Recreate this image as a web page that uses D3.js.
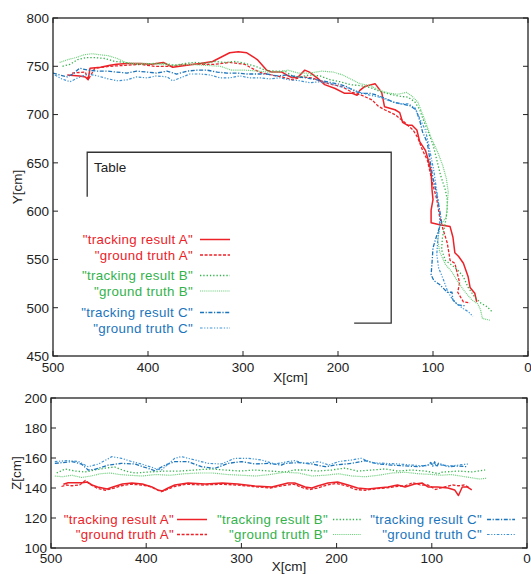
<!DOCTYPE html>
<html><head><meta charset="utf-8">
<script src="https://cdn.jsdelivr.net/npm/d3@7"></script>
<style>
body{margin:0;background:#fff;}
svg text{font-family:"Liberation Sans",Arial,sans-serif;}
</style></head>
<body><svg id="c" width="531" height="574"></svg>
<script>
// ---------- data: top plot (X[cm], Y[cm]) ----------
const trackA_XY=[[485,741],[472,740],[466,739],[463,736],[461,748],[450,749],[440,751],[433,752],[422,753],[408,753],[396,752],[384,754],[374,749],[359,751],[345,753],[332,755],[314,764],[305,765],[296,764],[285,757],[275,746],[270,744],[259,744],[254,741],[248,738],[242,739],[235,746],[230,744],[222,738],[214,731],[203,727],[193,722],[185,722],[180,720],[177,725],[172,729],[161,732],[154,723],[151,708],[140,705],[135,702],[132,692],[127,689],[122,689],[117,684],[114,672],[108,663],[105,653],[102,641],[101,622],[100,612],[102,601],[102,588],[93,586],[82,584],[79,573],[77,557],[73,553],[68,546],[63,532],[61,521],[56,515],[54,506]];
const truthA_XY=[[480,743],[466,744],[463,736],[456,748],[440,750],[424,751],[408,752],[393,750],[377,750],[361,752],[345,752],[330,752],[314,754],[298,752],[287,746],[280,743],[270,741],[259,739],[248,736],[238,739],[227,738],[217,734],[206,731],[196,729],[185,723],[175,720],[164,715],[158,709],[151,705],[140,700],[130,692],[121,684],[116,676],[111,663],[106,653],[103,640],[100,627],[96,612],[93,594],[90,583],[85,567],[82,549],[77,546],[74,534],[72,526],[74,516],[68,506],[61,505]];
const trackB_XY=[[490,750],[482,752],[474,757],[465,759],[456,759],[445,758],[435,755],[424,754],[414,752],[403,752],[393,753],[382,753],[372,751],[361,753],[351,754],[340,753],[330,755],[319,754],[308,755],[298,753],[287,750],[277,746],[266,745],[256,745],[248,740],[240,739],[230,741],[219,740],[208,736],[198,734],[187,731],[177,730],[166,728],[156,724],[145,721],[135,719],[126,718],[119,713],[114,705],[110,694],[105,682],[100,669],[96,653],[92,637],[87,622],[85,612],[85,601],[87,588],[90,573],[91,560],[87,549],[80,544],[74,539],[68,532],[63,521],[56,511],[50,505],[43,501],[37,495]];
const truthB_XY=[[493,754],[484,757],[476,759],[467,762],[459,763],[451,762],[442,761],[432,758],[424,754],[414,753],[403,753],[387,752],[372,751],[356,752],[340,751],[324,750],[312,746],[298,746],[284,745],[274,744],[263,744],[253,746],[242,743],[230,743],[217,745],[205,744],[195,741],[185,736],[177,732],[166,730],[156,725],[145,722],[137,721],[128,723],[122,719],[116,713],[112,703],[107,690],[102,676],[95,661],[90,648],[86,634],[84,620],[85,606],[86,594],[93,584],[95,570],[93,558],[87,545],[80,537],[74,527],[66,516],[59,508],[53,504],[50,498],[48,489],[40,487]];
const trackC_XY=[[500,743],[493,741],[485,739],[479,742],[472,748],[463,746],[454,745],[443,745],[433,744],[422,743],[412,745],[401,744],[391,743],[380,745],[370,742],[359,745],[348,746],[338,746],[327,744],[317,743],[306,743],[296,742],[285,742],[275,742],[264,740],[254,741],[243,739],[233,738],[222,736],[212,734],[201,732],[191,729],[182,724],[175,722],[166,722],[159,720],[151,717],[142,713],[133,711],[124,709],[118,705],[114,694],[111,682],[106,671],[104,658],[102,646],[100,634],[97,622],[95,612],[93,601],[91,589],[96,575],[100,562],[101,547],[102,534],[99,528],[93,524],[85,516],[80,516],[79,508],[74,503],[66,502]];
const truthC_XY=[[498,741],[491,737],[482,734],[474,738],[463,742],[453,740],[442,737],[432,735],[422,736],[412,739],[401,738],[391,740],[380,739],[374,735],[366,738],[356,742],[345,742],[335,741],[324,738],[314,738],[303,740],[293,738],[282,738],[272,737],[261,738],[251,736],[240,735],[230,733],[219,734],[208,732],[198,729],[187,727],[177,723],[166,720],[156,718],[145,714],[135,711],[126,711],[119,707],[114,696],[108,684],[105,671],[102,656],[99,641],[97,627],[95,614],[93,599],[93,586],[95,570],[96,555],[94,541],[89,529],[85,518],[81,511],[75,504],[68,499],[63,496],[58,491]];
// table outline (X, Y)
const tableOutline=[[464,615],[464,661],[144,661],[144,484],[183,484]];

// ---------- data: bottom plot (X[cm], Z[cm]) ----------
const trackA_XZ=[[487,142.5],[482,143.5],[475,143.5],[467,143.5],[462,144],[457,142],[451,140.7],[441,139.3],[435,140.7],[425,142.7],[415,143.3],[404,142.7],[394,140.7],[388,138.7],[383,138],[377,140],[370,142],[356,143.3],[338,142.7],[320,143.3],[304,142.7],[286,141.3],[268,140.7],[251,143.3],[244,143.3],[233,140.7],[226,140],[220,141.3],[209,143.3],[199,144],[188,142],[178,140],[167,139.3],[157,140],[146,140.7],[136,142],[128,140.7],[118,142.7],[110,143.3],[104,140.7],[94,140.7],[83,140],[76,138.7],[72,135],[68,140.7],[63,140.7],[58,138.7]];
const truthA_XZ=[[489,141],[484,142],[478,141.5],[470,142],[464,145],[460,143],[452,140],[443,138.5],[436,139.5],[426,141.5],[416,142.5],[405,142],[396,141],[389,139],[384,137.5],[378,139],[370,141],[358,142.5],[340,142],[322,142.5],[305,142],[288,141],[270,140],[252,142],[245,142.5],[235,140],[228,139],[220,140],[210,142],[200,143],[190,141.5],[180,139],[170,138.5],[158,139.5],[148,140],[138,141],[128,141.5],[120,143.5],[112,142],[104,142],[96,139],[85,141],[78,142],[72,141.5],[66,142],[60,140]];
const trackB_XZ=[[494,150],[485,152.7],[475,151.3],[464,150.7],[454,152],[443,153.3],[433,154],[422,151.3],[412,150],[396,150.7],[380,151.3],[365,151.3],[349,152],[333,152.7],[317,152],[301,151.3],[286,152],[270,151.3],[254,150.7],[244,152],[233,152],[220,151.3],[205,152],[191,153.3],[178,151.3],[163,152],[149,152.7],[136,151.3],[121,152],[107,151.3],[96,150],[93,149.5],[90,150.5],[86,150.7],[72,151.3],[58,150.7],[44,152]];
const truthB_XZ=[[496,148],[488,147.5],[478,148.5],[468,147],[458,148],[448,149.5],[438,150],[428,149],[418,148.5],[404,148],[390,149],[375,148.5],[360,149.5],[345,150],[330,150],[315,149],[300,148.5],[285,148],[270,149],[255,150.5],[240,150],[226,148],[212,148.5],[198,149.5],[184,148],[170,147.5],[156,148.5],[142,150],[128,150.5],[114,149.5],[100,149],[90,148.5],[80,149],[70,148],[60,147],[50,146],[42,146.5]];
const trackC_XZ=[[496,156.4],[478,157.6],[468,156],[461,152],[454,152.4],[440,155.3],[426,156.4],[412,156],[398,153.1],[391,151.5],[380,155.3],[370,157.6],[356,157.6],[342,154.2],[328,153.1],[314,156.4],[300,157.6],[286,156],[272,156.4],[258,155.3],[254,156.4],[240,156.9],[226,156],[212,154.2],[202,155.3],[184,156.4],[170,158.2],[156,156],[142,155.3],[128,154.7],[114,154.2],[104,155.3],[101,157],[99,154.5],[97,157.5],[95,154],[93,156.5],[83,154.2],[72,154.7],[63,154.2]];
const truthC_XZ=[[496,157.6],[482,158.3],[471,157.6],[461,154.2],[450,156],[436,160.9],[426,159.8],[415,157.6],[405,156],[391,153.1],[384,152],[370,159.8],[363,160.9],[349,158.7],[335,156.4],[321,156],[307,159.8],[293,159.8],[279,158.7],[265,156],[251,157.6],[244,158.2],[233,156.4],[219,157.6],[208,155.3],[198,157.6],[184,158.7],[174,159.8],[163,156.9],[149,156.4],[135,156],[121,155.3],[107,154.7],[100,156],[90,155.3],[79,154.7],[72,155.3],[62,156]];

// ---------- ticks & labels ----------
const xTicks=[500,400,300,200,100,0];
const yTicksTop=[450,500,550,600,650,700,750,800];
const zTicks=[100,120,140,160,180,200];
const seriesNames=['"tracking result A"','"ground truth A"','"tracking result B"','"ground truth B"','"tracking result C"','"ground truth C"'];

// ---------- styles ----------
const RED="#ec2228", GREEN="#33b24b", GREEN_L="#6fcf7d", BLUE="#1b75bc", BLUE_L="#3d93d6";
const styles=[
 {c:RED,   w:1.5, d:null,            t:RED},
 {c:RED,   w:1.3, d:"3,1.6",         t:RED},
 {c:GREEN, w:1.3, d:"1.3,2",         t:GREEN},
 {c:GREEN_L,w:1.2,d:"1,0.9",         t:GREEN},
 {c:BLUE,  w:1.3, d:"4,1.6,1.2,1.6", t:BLUE},
 {c:BLUE_L,w:1.2, d:"2.6,1.6,1.2,1.6,1.2,1.6", t:BLUE}
];

const svg=d3.select("#c");
const FS=13.3, LS=0.33;

function panel(cfg){
  const {l,r,t,b,ydom,yticks,series,ylabel,ylabX,ytickEnd,xtickBase,xlabBase,id}=cfg;
  const x=d3.scaleLinear().domain([500,0]).range([l,r]);
  const y=d3.scaleLinear().domain(ydom).range([b,t]);
  const g=svg.append("g");
  g.append("clipPath").attr("id",id).append("rect").attr("x",l).attr("y",t).attr("width",r-l).attr("height",b-t);
  const line=d3.line().x(d=>x(d[0])).y(d=>y(d[1]));
  const dg=g.append("g").attr("clip-path",`url(#${id})`);
  series.forEach((s,i)=>{
    const st=styles[i];
    dg.append("path").attr("d",line(s)).attr("fill","none").attr("stroke",st.c)
      .attr("stroke-width",st.w).attr("stroke-dasharray",st.d).attr("stroke-linejoin","round");
  });
  const tl=5;
  const ax=g.append("g").attr("stroke","#222").attr("stroke-width",1);
  xTicks.forEach(v=>{
    ax.append("line").attr("x1",x(v)).attr("x2",x(v)).attr("y1",b).attr("y2",b-tl);
    ax.append("line").attr("x1",x(v)).attr("x2",x(v)).attr("y1",t).attr("y2",t+tl);
  });
  yticks.forEach(v=>{
    ax.append("line").attr("x1",l).attr("x2",l+tl).attr("y1",y(v)).attr("y2",y(v));
    ax.append("line").attr("x1",r).attr("x2",r-tl).attr("y1",y(v)).attr("y2",y(v));
  });
  g.append("rect").attr("x",l).attr("y",t).attr("width",r-l).attr("height",b-t)
    .attr("fill","none").attr("stroke","#222").attr("stroke-width",1.3);
  const tx=g.append("g").attr("font-size",13.5).attr("fill","#222");
  xTicks.forEach(v=>tx.append("text").attr("x",x(v)).attr("y",xtickBase).attr("text-anchor","middle").text(v));
  yticks.forEach(v=>tx.append("text").attr("x",ytickEnd).attr("y",y(v)).attr("dy","0.36em").attr("text-anchor","end").text(v));
  tx.append("text").attr("x",(l+r)/2).attr("y",xlabBase).attr("text-anchor","middle").text("X[cm]");
  tx.append("text").attr("transform",`translate(${ylabX},${(t+b)/2}) rotate(-90)`).attr("text-anchor","middle").attr("dy","0.36em").text(ylabel);
  return {x,y,g};
}

// top panel
const topP=panel({id:"clipTop",l:53,r:528,t:18,b:356,ydom:[450,800],yticks:yTicksTop,
  series:[trackA_XY,truthA_XY,trackB_XY,truthB_XY,trackC_XY,truthC_XY],
  ylabel:"Y[cm]",ylabX:17,ytickEnd:49,xtickBase:372,xlabBase:382});
topP.g.append("path").attr("d",d3.line().x(d=>topP.x(d[0])).y(d=>topP.y(d[1]))(tableOutline))
  .attr("fill","none").attr("stroke","#333").attr("stroke-width",1.3);
topP.g.append("text").attr("x",94).attr("y",172).attr("font-size",13.5).attr("fill","#222").text("Table");

const legTopY=[239.5,255,275.5,291,312.5,328];
seriesNames.forEach((n,i)=>{
  const st=styles[i];
  topP.g.append("text").attr("x",193).attr("y",legTopY[i]).attr("dy","0.36em").attr("text-anchor","end")
    .attr("font-size",FS).attr("letter-spacing",LS).attr("fill",st.t).text(n);
  topP.g.append("line").attr("x1",200).attr("x2",230).attr("y1",legTopY[i]).attr("y2",legTopY[i])
    .attr("stroke",st.c).attr("stroke-width",st.w).attr("stroke-dasharray",st.d);
});

// bottom panel
const botP=panel({id:"clipBot",l:51,r:527,t:398,b:548,ydom:[100,200],yticks:zTicks,
  series:[trackA_XZ,truthA_XZ,trackB_XZ,truthB_XZ,trackC_XZ,truthC_XZ],
  ylabel:"Z[cm]",ylabX:16,ytickEnd:47,xtickBase:563,xlabBase:571});
const legBotCols=[{te:174,l1:177,l2:207},{te:328,l1:333,l2:361},{te:482,l1:487,l2:515}];
const legBotY=[519.5,534.5];
seriesNames.forEach((n,i)=>{
  const st=styles[i], c=legBotCols[Math.floor(i/2)], yy=legBotY[i%2];
  botP.g.append("text").attr("x",c.te).attr("y",yy).attr("dy","0.36em").attr("text-anchor","end")
    .attr("font-size",FS).attr("letter-spacing",LS).attr("fill",st.t).text(n);
  botP.g.append("line").attr("x1",c.l1).attr("x2",c.l2).attr("y1",yy).attr("y2",yy)
    .attr("stroke",st.c).attr("stroke-width",st.w).attr("stroke-dasharray",st.d);
});
</script></body></html>
